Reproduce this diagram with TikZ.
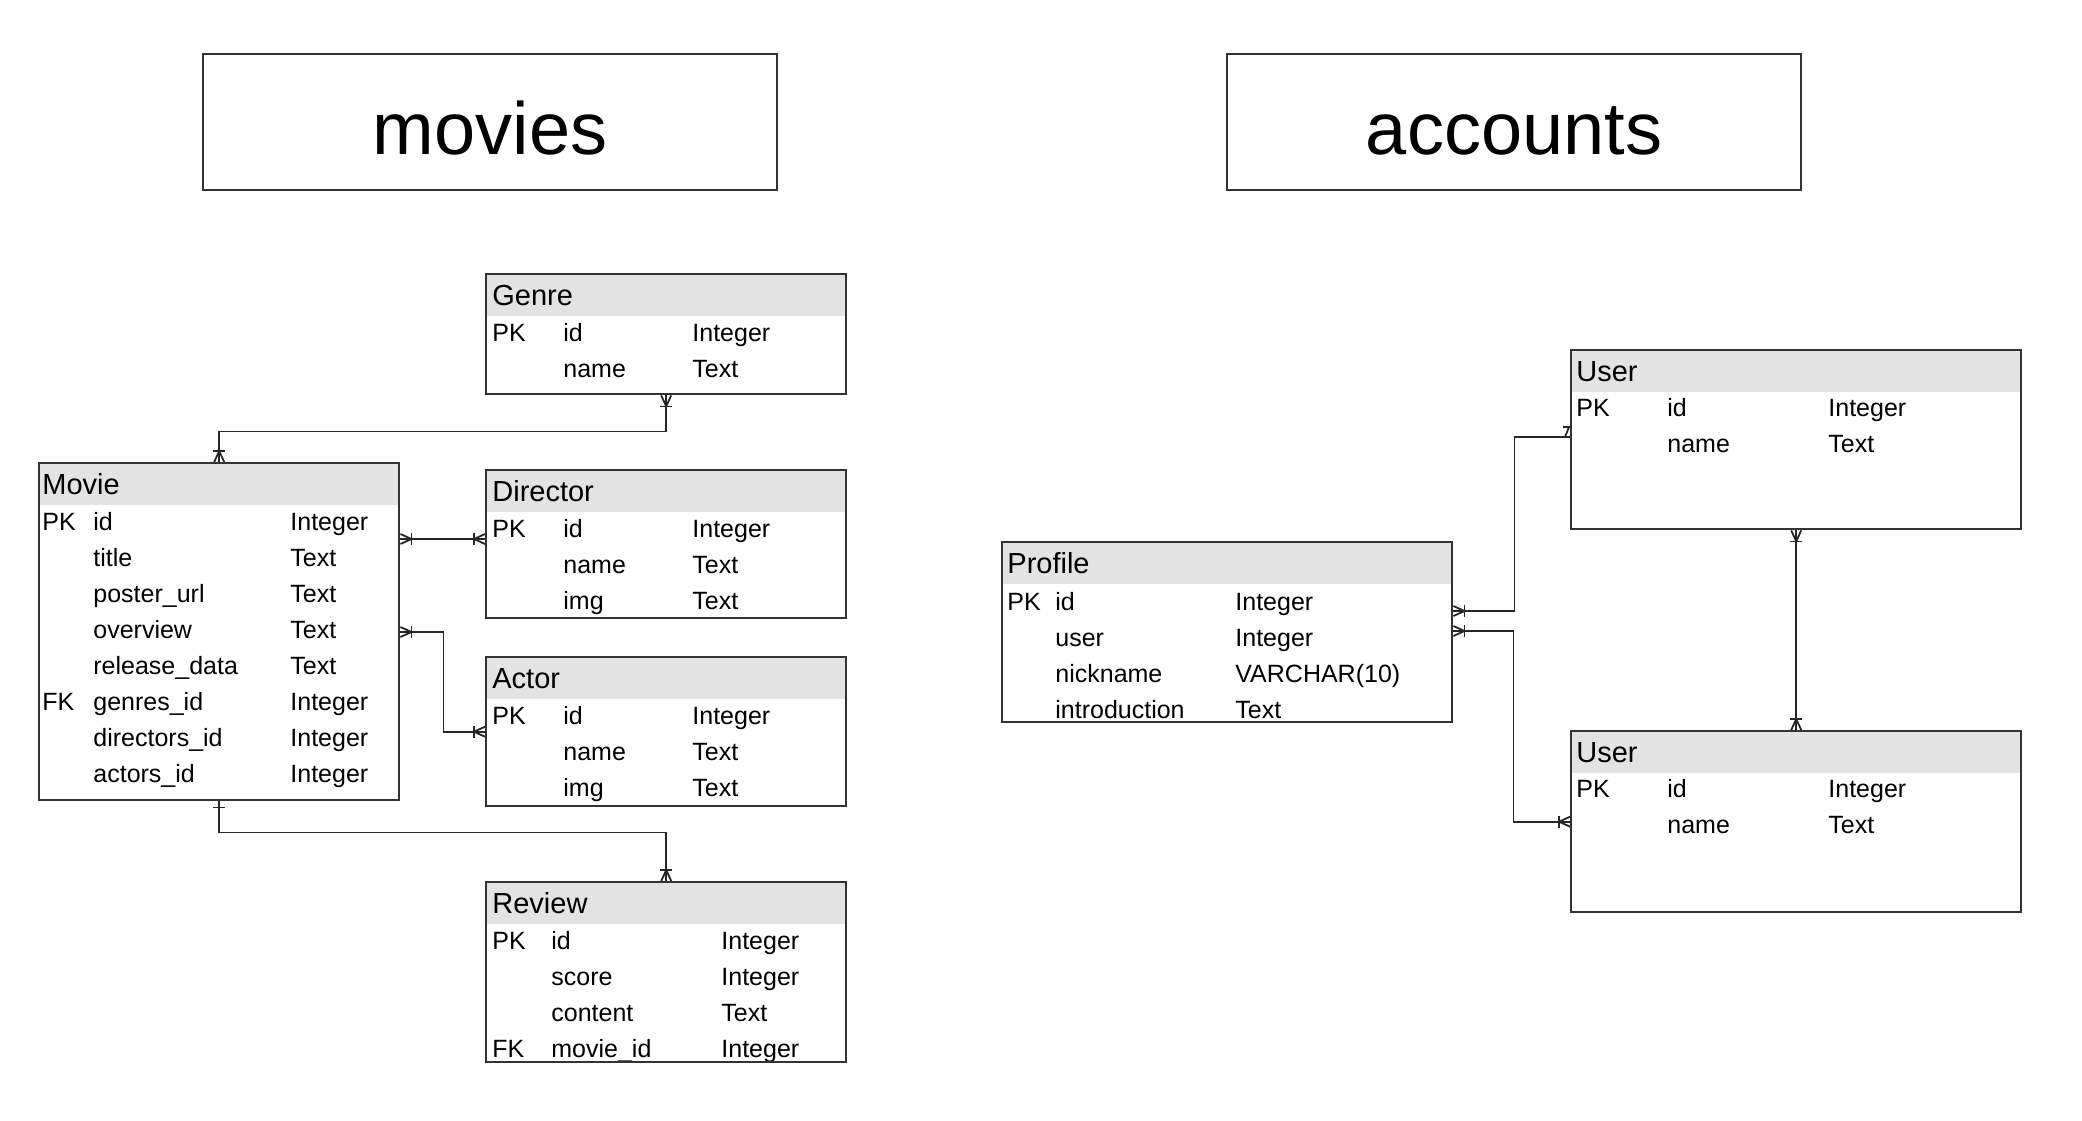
\documentclass[tikz,border=0pt]{standalone}
\usepackage{fontspec}
\setmainfont{Liberation Sans}
\usetikzlibrary{calc,positioning}
\definecolor{headgray}{HTML}{E3E3E3}
\definecolor{linegray}{HTML}{333333}

\begin{document}
\begin{tikzpicture}[x=0.5pt, y=-0.5pt,
    titlebox/.style={draw=linegray, line width=1pt, minimum width=287pt, minimum height=68pt, text height=32pt, text depth=0pt, font=\fontsize{37}{44}\selectfont},
    tablebox/.style={draw=linegray, line width=1.2pt, anchor=north west, inner sep=0pt},
    headfill/.style={fill=headgray, anchor=north west, inner sep=0pt, minimum height=21.5pt},
    headtext/.style={anchor=base west, inner sep=0pt, font=\fontsize{14.5}{17}\selectfont},
    cell/.style={anchor=base west, inner sep=0pt, font=\fontsize{12.5}{15}\selectfont},
    relline/.style={draw=black!85, line width=0.9pt},
    crowbar/.pic={\draw[relline] (-11,-6) -- (-11,6); \draw[relline] (0,-5) -- (-11,0) -- (0,5);},
    onebar/.pic={\draw[relline] (-6,-6) -- (-6,6);}]

  \useasboundingbox (0,0) rectangle (2082,1120);

  % App titles
  \node[titlebox] (moviesapp) at (490,122) {movies};
  \node[titlebox] (accountsapp) at (1514,122) {accounts};

  % Genre
  \begin{scope}[shift={(485,273)}]
    \node[headfill, minimum width=180pt] at (0,0) {};
    \node[headtext] at (7,32) {Genre};
    \foreach \k/\f/\t [count=\i from 0] in {PK/id/Integer, /name/Text} {
      \node[cell] at (7,68+36*\i) {\k};
      \node[cell] at (78,68+36*\i) {\f};
      \node[cell] at (207,68+36*\i) {\t};
    }
    \node[tablebox, minimum width=180pt, minimum height=60pt] (genre) at (0,0) {};
  \end{scope}

  % Movie
  \begin{scope}[shift={(38,462)}]
    \node[headfill, minimum width=180pt] at (0,0) {};
    \node[headtext] at (4,32) {Movie};
    \foreach \k/\f/\t [count=\i from 0] in {PK/id/Integer, /title/Text, /poster\_url/Text, /overview/Text,
        /release\_data/Text, FK/genres\_id/Integer, /directors\_id/Integer, /actors\_id/Integer} {
      \node[cell] at (4,68+36*\i) {\k};
      \node[cell] at (55,68+36*\i) {\f};
      \node[cell] at (252,68+36*\i) {\t};
    }
    \node[tablebox, minimum width=180pt, minimum height=168.5pt] (movie) at (0,0) {};
  \end{scope}

  % Director
  \begin{scope}[shift={(485,469)}]
    \node[headfill, minimum width=180pt] at (0,0) {};
    \node[headtext] at (7,32) {Director};
    \foreach \k/\f/\t [count=\i from 0] in {PK/id/Integer, /name/Text, /img/Text} {
      \node[cell] at (7,68+36*\i) {\k};
      \node[cell] at (78,68+36*\i) {\f};
      \node[cell] at (207,68+36*\i) {\t};
    }
    \node[tablebox, minimum width=180pt, minimum height=74pt] (director) at (0,0) {};
  \end{scope}

  % Actor
  \begin{scope}[shift={(485,656)}]
    \node[headfill, minimum width=180pt] at (0,0) {};
    \node[headtext] at (7,32) {Actor};
    \foreach \k/\f/\t [count=\i from 0] in {PK/id/Integer, /name/Text, /img/Text} {
      \node[cell] at (7,68+36*\i) {\k};
      \node[cell] at (78,68+36*\i) {\f};
      \node[cell] at (207,68+36*\i) {\t};
    }
    \node[tablebox, minimum width=180pt, minimum height=74.5pt] (actor) at (0,0) {};
  \end{scope}

  % Review
  \begin{scope}[shift={(485,881)}]
    \node[headfill, minimum width=180pt] at (0,0) {};
    \node[headtext] at (7,32) {Review};
    \begin{scope}
      \clip (0,0) rectangle (360,180);
      \foreach \k/\f/\t [count=\i from 0] in {PK/id/Integer, /score/Integer, /content/Text, FK/movie\_id/Integer} {
        \node[cell] at (7,68+36*\i) {\k};
        \node[cell] at (66,68+36*\i) {\f};
        \node[cell] at (236,68+36*\i) {\t};
      }
    \end{scope}
    \node[tablebox, minimum width=180pt, minimum height=90pt] (review) at (0,0) {};
  \end{scope}

  % Profile
  \begin{scope}[shift={(1001,541)}]
    \node[headfill, minimum width=225pt] at (0,0) {};
    \node[headtext] at (6,32) {Profile};
    \begin{scope}
      \clip (0,0) rectangle (450,180);
      \foreach \k/\f/\t [count=\i from 0] in {PK/id/Integer, /user/Integer, /nickname/VARCHAR(10), /introduction/Text} {
        \node[cell] at (6,69+36*\i) {\k};
        \node[cell] at (54,69+36*\i) {\f};
        \node[cell] at (234,69+36*\i) {\t};
      }
    \end{scope}
    \node[tablebox, minimum width=225pt, minimum height=90pt] (profile) at (0,0) {};
  \end{scope}

  % User (top)
  \begin{scope}[shift={(1570,349)}]
    \node[headfill, minimum width=225pt] at (0,0) {};
    \node[headtext] at (6,32) {User};
    \foreach \k/\f/\t [count=\i from 0] in {PK/id/Integer, /name/Text} {
      \node[cell] at (6,67+36*\i) {\k};
      \node[cell] at (97,67+36*\i) {\f};
      \node[cell] at (258,67+36*\i) {\t};
    }
    \node[tablebox, minimum width=225pt, minimum height=89.5pt] (usera) at (0,0) {};
  \end{scope}

  % User (bottom)
  \begin{scope}[shift={(1570,730)}]
    \node[headfill, minimum width=225pt] at (0,0) {};
    \node[headtext] at (6,32) {User};
    \foreach \k/\f/\t [count=\i from 0] in {PK/id/Integer, /name/Text} {
      \node[cell] at (6,67+36*\i) {\k};
      \node[cell] at (97,67+36*\i) {\f};
      \node[cell] at (258,67+36*\i) {\t};
    }
    \node[tablebox, minimum width=225pt, minimum height=90.5pt] (userb) at (0,0) {};
  \end{scope}

  % Relations
  \draw[relline] (genre.south) -- ++(0,36) -| (movie.north);
  \draw[relline] ($(movie.north east)+(0,77)$) -- ($(director.north west)+(0,70)$);
  \draw[relline] ($(movie.north east)+(0,170)$) -- ++(43,0) |- (actor.west);
  \draw[relline] (movie.south) -- ++(0,31) -| (review.north);
  \draw[relline] ($(profile.north east)+(0,70)$) -- ++(61,0) |- ($(usera.north west)+(0,88)$);
  \draw[relline] ($(profile.north east)+(0,90)$) -- ++(60,0) |- (userb.west);
  \draw[relline] (usera.south) -- (userb.north);

  % Cardinality marks
  \pic[rotate=90] at (genre.south) {crowbar};
  \pic[rotate=-90] at (movie.north) {crowbar};
  \pic[rotate=180] at ($(movie.north east)+(0,77)$) {crowbar};
  \pic at ($(director.north west)+(0,70)$) {crowbar};
  \pic[rotate=180] at ($(movie.north east)+(0,170)$) {crowbar};
  \pic at (actor.west) {crowbar};
  \pic[rotate=90] at (movie.south) {onebar};
  \pic[rotate=-90] at (review.north) {crowbar};
  \pic[rotate=180] at ($(profile.north east)+(0,70)$) {crowbar};
  \pic[rotate=180] at ($(profile.north east)+(0,90)$) {crowbar};
  \draw[relline] ($(usera.north west)+(-7,78)$) -- ++(6,0) -- ++(-4,10);
  \pic at (userb.west) {crowbar};
  \pic[rotate=90] at (usera.south) {crowbar};
  \pic[rotate=-90] at (userb.north) {crowbar};
\end{tikzpicture}
\end{document}
